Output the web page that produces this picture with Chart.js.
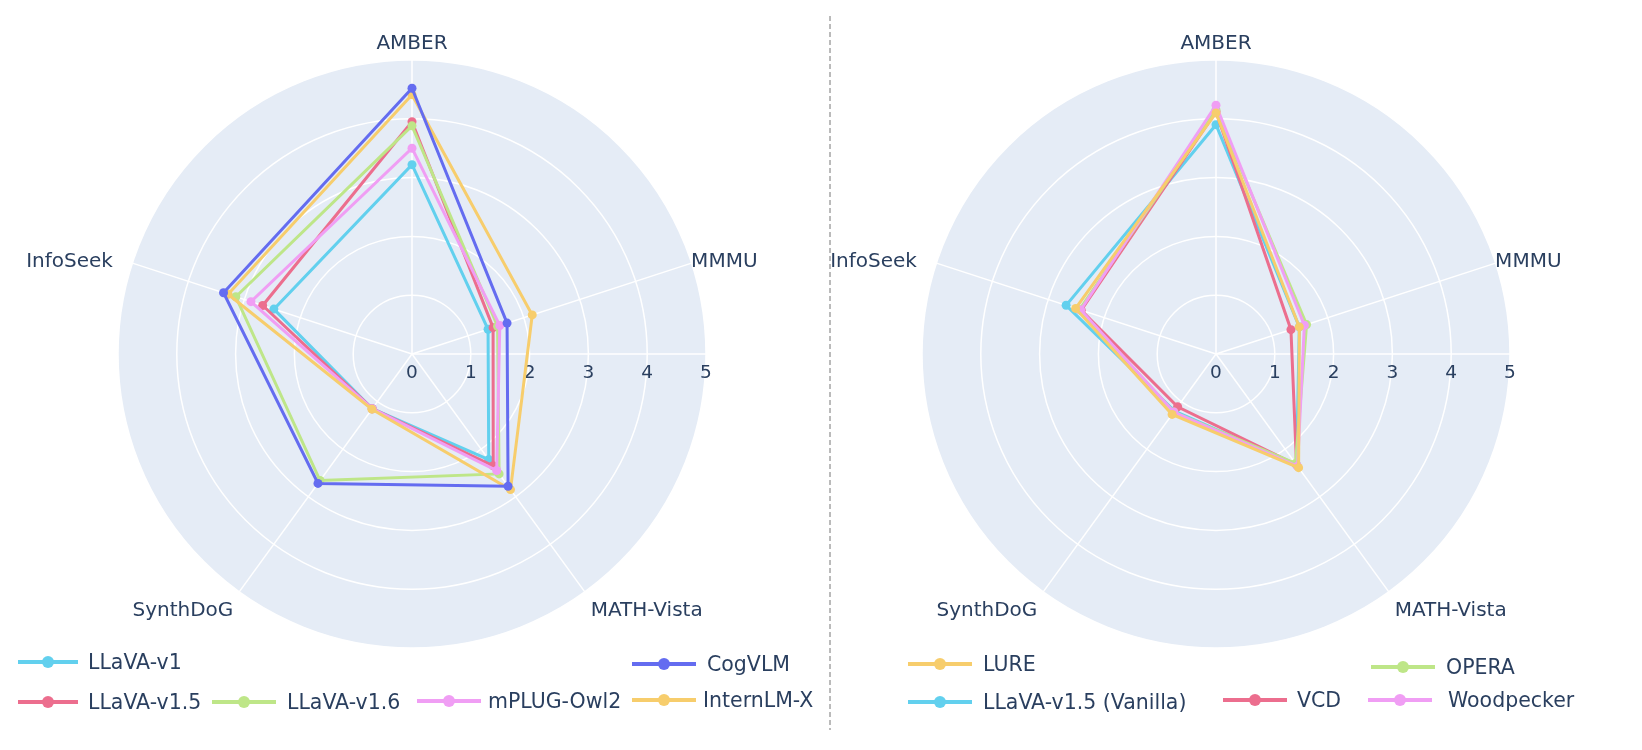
<!DOCTYPE html>
<html>
<head>
<meta charset="utf-8">
<script src="https://cdn.jsdelivr.net/npm/chart.js@4.4.1/dist/chart.umd.min.js"></script>
<style>
  html, body { margin: 0; padding: 0; background: #fff; }
  body { width: 1642px; height: 750px; position: relative; overflow: hidden; font-family: 'DejaVu Sans', Verdana, sans-serif; }
  .box { position: absolute; top: 0; width: 800px; height: 740px; }
  #leftBox { left: 12px; }
  #rightBox { left: 816px; }
  .item { position: absolute; height: 24px; color: #2a3f5f; font-size: 20.5px; white-space: nowrap; }
  .item .ln { position: absolute; top: 10px; height: 4px; left: 0; }
  .item .dot { position: absolute; top: 6px; width: 12px; height: 12px; border-radius: 50%; }
  .item .tx { position: absolute; top: 0; line-height: 24px; }
  #divider { position: absolute; left: 829px; top: 16px; }
</style>
</head>
<body>
<div class="box" id="leftBox"><canvas id="leftChart"></canvas></div>
<div class="box" id="rightBox"><canvas id="rightChart"></canvas></div>
<svg id="divider" width="3" height="714"><line x1="1" y1="0" x2="1" y2="714" stroke="#777" stroke-width="1" stroke-dasharray="5,3"/></svg>
<div id="legend"></div>

<script>
// axes
const categories = ['AMBER', 'MMMU', 'MATH-Vista', 'SynthDoG', 'InfoSeek'];
const tickValues = [0, 1, 2, 3, 4, 5];

// left chart: base models
const leftNames = ['LLaVA-v1', 'LLaVA-v1.5', 'LLaVA-v1.6', 'mPLUG-Owl2', 'InternLM-X', 'CogVLM'];
const llavaV1 = [3.22, 1.36, 2.22, 1.15, 2.47];
const llavaV15 = [3.95, 1.45, 2.35, 1.15, 2.67];
const llavaV16 = [3.88, 1.53, 2.52, 2.66, 3.15];
const mplugOwl2 = [3.50, 1.57, 2.45, 1.15, 2.88];
const internLMX = [4.41, 2.15, 2.85, 1.16, 3.29];
const cogVLM = [4.52, 1.70, 2.78, 2.72, 3.37];

// right chart: hallucination mitigation methods on LLaVA-v1.5
const rightNames = ['LLaVA-v1.5 (Vanilla)', 'VCD', 'OPERA', 'Woodpecker', 'LURE'];
const vanilla = [3.90, 1.49, 2.33, 1.20, 2.68];
const vcd = [4.12, 1.34, 2.33, 1.11, 2.41];
const opera = [4.15, 1.62, 2.30, 1.22, 2.44];
const woodpecker = [4.23, 1.58, 2.36, 1.22, 2.42];
const lure = [4.10, 1.49, 2.39, 1.27, 2.51];

const leftColors = ['#62D0EE', '#EC6E8E', '#BEE688', '#F09EF4', '#F7CD6C', '#646CF0'];
const rightColors = ['#62D0EE', '#EC6E8E', '#BEE688', '#F09EF4', '#F7CD6C'];

// legend placement (line start x, centre y, line length, text x)
const leftLegendPos = [
  [18, 662, 60, 88], [18, 702, 60, 88], [212, 702, 64, 287],
  [417, 701, 64, 488], [632, 700, 64, 703], [632, 664, 64, 707]
];
const rightLegendPos = [
  [908, 702, 64, 983], [1223, 700, 64, 1297], [1371, 667, 64, 1446],
  [1368, 700, 64, 1448], [908, 664, 64, 983]
];

Chart.defaults.font.family = "'DejaVu Sans', Verdana, sans-serif";

const polarDecor = {
  id: 'polarDecor',
  beforeDraw(chart) {
    const r = chart.scales.r;
    const ctx = chart.ctx;
    ctx.save();
    ctx.beginPath();
    ctx.arc(r.xCenter, r.yCenter, r.drawingArea, 0, Math.PI * 2);
    ctx.fillStyle = '#E5ECF6';
    ctx.fill();
    ctx.restore();
  },
  beforeDatasetsDraw(chart) {
    const r = chart.scales.r;
    const ctx = chart.ctx;
    ctx.save();
    // radial axis line at 0 degrees
    ctx.strokeStyle = '#ffffff';
    ctx.lineWidth = 1.5;
    ctx.beginPath();
    ctx.moveTo(r.xCenter, r.yCenter);
    ctx.lineTo(r.xCenter + r.getDistanceFromCenterForValue(r.max), r.yCenter);
    ctx.stroke();
    // tick labels below it
    ctx.fillStyle = '#2a3f5f';
    ctx.font = "18.5px 'DejaVu Sans'";
    ctx.textAlign = 'center';
    ctx.textBaseline = 'middle';
    tickValues.forEach(v => {
      ctx.fillText(String(v), r.xCenter + r.getDistanceFromCenterForValue(v), r.yCenter + 19);
    });
    ctx.restore();
  },
  afterDraw(chart) {
    // category labels, placed plotly-style round the outer ring
    const r = chart.scales.r;
    const ctx = chart.ctx;
    ctx.save();
    ctx.fillStyle = '#2a3f5f';
    ctx.font = "20px 'DejaVu Sans'";
    ctx.textBaseline = 'middle';
    chart.data.labels.forEach((label, i) => {
      const p = r.getPointPosition(i, r.drawingArea + 10);
      const cos = (p.x - r.xCenter) / (r.drawingArea + 10);
      const sin = (p.y - r.yCenter) / (r.drawingArea + 10);
      let x = p.x, y = p.y;
      ctx.textAlign = Math.abs(cos) < 0.1 ? 'center' : (cos > 0 ? 'left' : 'right');
      if (sin < -0.9) {
        y -= 6;
      } else if (Math.abs(sin) < 0.5) {
        x -= 10;
        y += 2;
      } else {
        y += 11;
      }
      ctx.fillText(label, x, y);
    });
    ctx.restore();
  }
};

function makeDatasets(names, series, colors) {
  return names.map((name, i) => ({
    label: name,
    data: series[i],
    borderColor: colors[i],
    backgroundColor: colors[i],
    pointBackgroundColor: colors[i],
    pointBorderColor: colors[i],
    pointBorderWidth: 0,
    pointRadius: 4.5,
    borderWidth: 3,
    fill: false,
    order: names.length - i
  }));
}

function makeRadar(canvasId, names, series, colors) {
  const ctx = document.getElementById(canvasId).getContext('2d');
  return new Chart(ctx, {
    type: 'radar',
    data: {
      labels: categories,
      datasets: makeDatasets(names, series, colors)
    },
    options: {
      responsive: true,
      maintainAspectRatio: false,
      animation: false,
      layout: { padding: { left: 106, right: 106, top: 60, bottom: 92 } },
      plugins: {
        legend: { display: false },
        tooltip: { enabled: false }
      },
      scales: {
        r: {
          min: 0,
          max: 5,
          ticks: { display: false, stepSize: 1 },
          grid: { circular: true, color: '#ffffff', lineWidth: 1.5 },
          angleLines: { color: '#ffffff', lineWidth: 1.5 },
          pointLabels: { display: false }
        }
      }
    },
    plugins: [polarDecor]
  });
}

function addLegend(names, colors, pos) {
  const holder = document.getElementById('legend');
  names.forEach((name, i) => {
    const [x, cy, len, tx] = pos[i];
    const item = document.createElement('div');
    item.className = 'item';
    item.style.left = x + 'px';
    item.style.top = (cy - 12) + 'px';
    const ln = document.createElement('div');
    ln.className = 'ln';
    ln.style.width = len + 'px';
    ln.style.background = colors[i];
    const dot = document.createElement('div');
    dot.className = 'dot';
    dot.style.left = (len / 2 - 6) + 'px';
    dot.style.background = colors[i];
    const t = document.createElement('div');
    t.className = 'tx';
    t.style.left = (tx - x) + 'px';
    t.textContent = name;
    item.appendChild(ln);
    item.appendChild(dot);
    item.appendChild(t);
    holder.appendChild(item);
  });
}

makeRadar('leftChart', leftNames, [llavaV1, llavaV15, llavaV16, mplugOwl2, internLMX, cogVLM], leftColors);
makeRadar('rightChart', rightNames, [vanilla, vcd, opera, woodpecker, lure], rightColors);
addLegend(leftNames, leftColors, leftLegendPos);
addLegend(rightNames, rightColors, rightLegendPos);
</script>
</body>
</html>
